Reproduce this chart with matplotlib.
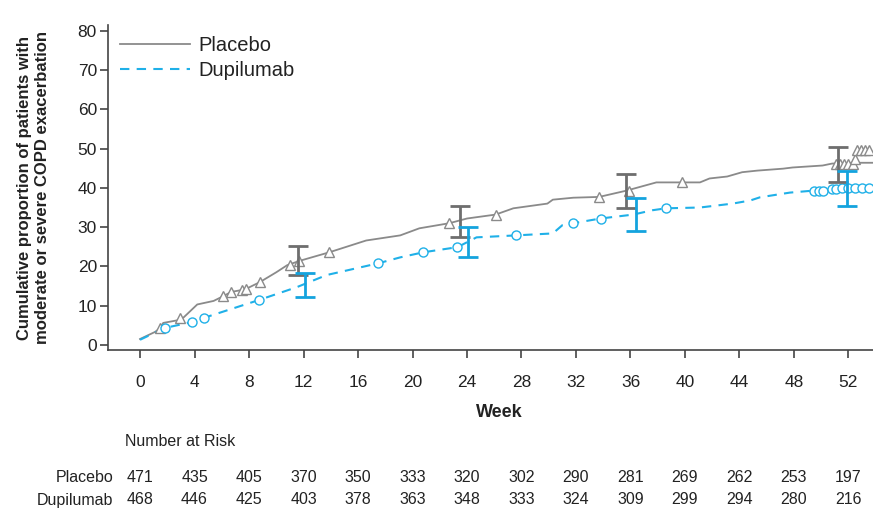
import matplotlib
matplotlib.use("Agg")
import matplotlib.pyplot as plt
from matplotlib import font_manager as fm

names = {f.name for f in fm.fontManager.ttflist}
BASE = "Liberation Sans" if "Liberation Sans" in names else "DejaVu Sans"
NARROW = "Liberation Sans Narrow" if "Liberation Sans Narrow" in names else BASE
plt.rcParams["font.family"] = [BASE, "DejaVu Sans"]

# ---------------- data ----------------
placebo_w = [0.0, 1.1, 1.5, 1.7, 2.8, 3.2, 4.2, 5.4, 6.1, 6.7, 7.5, 7.8, 8.8, 10.0,
             10.8, 11.7, 13.9, 16.6, 19.1, 20.5, 22.7, 24.0, 26.1, 27.4, 29.9, 30.3,
             31.8, 33.7, 35.7, 37.9, 39.8, 41.1, 41.8, 43.1, 44.2, 45.3, 47.2, 47.9,
             50.1, 50.8, 52.3, 52.5, 53.8]
placebo_y = [1.5, 3.3, 4.3, 5.6, 6.3, 7.0, 10.3, 11.2, 12.4, 13.5, 14.0, 14.3, 16.0, 18.5,
             20.3, 21.4, 23.6, 26.6, 27.9, 29.7, 31.0, 32.2, 33.2, 34.8, 36.0, 37.0,
             37.5, 37.7, 39.3, 41.4, 41.4, 41.4, 42.4, 42.9, 44.0, 44.4, 44.9, 45.2,
             45.7, 46.2, 46.3, 46.4, 46.4]
placebo_cens_w = [1.5, 2.9, 6.1, 6.7, 7.5, 7.8, 8.8, 11.0, 11.7, 13.9, 22.7, 26.1,
                  33.7, 35.9, 39.8, 51.1, 51.4, 51.7, 52.0, 52.3, 52.5,
                  52.6, 52.9, 53.2, 53.5]
placebo_cens_y = [4.3, 6.9, 12.4, 13.5, 14.0, 14.3, 16.0, 20.3, 21.3, 23.6, 31.0, 33.2,
                  37.6, 39.2, 41.4, 46.2, 46.2, 46.2, 46.2, 46.2, 47.3,
                  49.7, 49.7, 49.7, 49.7]

dupi_w = [0.0, 1.8, 3.8, 4.7, 8.7, 11.5, 13.7, 17.5, 19.1, 20.8, 23.3, 24.7, 27.6,
          30.3, 31.0, 31.8, 33.8, 36.2, 37.6, 38.6, 41.1, 43.5, 44.8, 45.5, 47.7,
          49.4, 50.1, 50.8, 51.4, 53.8]
dupi_y = [1.3, 4.3, 5.8, 6.9, 11.4, 14.7, 17.8, 20.8, 22.3, 23.6, 24.9, 27.4, 27.9,
          28.4, 30.5, 31.0, 32.2, 33.2, 34.3, 34.8, 35.0, 36.0, 36.8, 37.6, 38.8,
          39.3, 39.3, 39.6, 40.1, 40.1]
dupi_cens_w = [1.8, 3.8, 4.7, 8.7, 17.5, 20.8, 23.3, 27.6, 31.8, 33.8, 38.6,
               49.5, 49.8, 50.1, 50.8, 51.1, 51.5, 52.0, 52.5, 53.0, 53.5]
dupi_cens_y = [4.3, 5.8, 6.9, 11.4, 20.8, 23.6, 24.9, 27.9, 31.0, 32.2, 34.8,
               39.2, 39.2, 39.2, 39.6, 39.6, 40.1, 40.1, 40.1, 40.1, 40.1]

placebo_err_w = [11.6, 23.5, 35.7, 51.2]
placebo_err_lo = [17.8, 27.4, 34.8, 41.4]
placebo_err_hi = [25.2, 35.5, 43.6, 50.5]
dupi_err_w = [12.1, 24.1, 36.4, 51.9]
dupi_err_lo = [12.2, 22.3, 29.0, 35.5]
dupi_err_hi = [18.2, 30.0, 37.3, 44.4]

weeks = [0, 4, 8, 12, 16, 20, 24, 28, 32, 36, 40, 44, 48, 52]
risk_placebo = [471, 435, 405, 370, 350, 333, 320, 302, 290, 281, 269, 262, 253, 197]
risk_dupi = [468, 446, 425, 403, 378, 363, 348, 333, 324, 309, 299, 294, 280, 216]

GRAY = "#8a8a8a"
GRAY_ERR = "#6e6e6e"
BLUE = "#1fb0e8"
BLUE_ERR = "#14a3de"
TXT = "#222222"

fig = plt.figure(figsize=(8.73, 5.12), dpi=100)
ax = fig.add_axes([108 / 873, 1 - 350 / 512, 1 - 108 / 873, (350 - 25) / 512])

ax.plot(placebo_w, placebo_y, color=GRAY, lw=1.3, label="Placebo", zorder=3)
ax.plot(dupi_w, dupi_y, color=BLUE, lw=1.5, ls=(0, (4.5, 3.5)), label="Dupilumab", zorder=3)

ax.plot(placebo_cens_w, placebo_cens_y, ls="none", marker="^", ms=6.5, mfc="white",
        mec=GRAY, mew=1.0, zorder=4)
ax.plot(dupi_cens_w, dupi_cens_y, ls="none", marker="o", ms=6.5, mfc="white",
        mec=BLUE, mew=1.0, zorder=4)

for ws, lo, hi, col in [(placebo_err_w, placebo_err_lo, placebo_err_hi, GRAY_ERR),
                        (dupi_err_w, dupi_err_lo, dupi_err_hi, BLUE_ERR)]:
    mid = [(a + b) / 2 for a, b in zip(lo, hi)]
    ax.errorbar(ws, mid, yerr=[[m - a for m, a in zip(mid, lo)], [b - m for m, b in zip(mid, hi)]],
                fmt="none", ecolor=col, elinewidth=2.0, capsize=7, capthick=2.0, zorder=5)

ax.set_xlim(-2.35, 53.8)
ax.set_ylim(-1.3, 81.5)
ax.set_xticks(weeks)
ax.set_yticks(range(0, 81, 10))
for s in ["top", "right"]:
    ax.spines[s].set_visible(False)
for s in ["left", "bottom"]:
    ax.spines[s].set_color("#444444")
    ax.spines[s].set_linewidth(1.2)
ax.tick_params(direction="out", length=6, width=1.2, color="#444444",
               labelsize=12.5, labelcolor=TXT, pad=2)
ax.tick_params(axis="x", pad=12)

ax.set_ylabel("Cumulative proportion of patients with\nmoderate or severe COPD exacerbation",
              fontsize=12, fontweight="bold", color=TXT, linespacing=1.25)
ax.yaxis.set_label_coords(-0.076, 0.5)
ax.set_xlabel("Week", fontsize=13, fontweight="bold", color=TXT)
ax.xaxis.set_label_coords((499 - 108) / 765, -(404 - 350) / 325)

leg = ax.legend(loc="upper left", bbox_to_anchor=(-0.008, 1.023), frameon=False, fontsize=14.5,
                handlelength=3.5, handletextpad=0.4, labelspacing=0.3, borderaxespad=0.5)
for t in leg.get_texts():
    t.set_color(TXT)

# number at risk table
RS = 11.5
fig.text(125 / 873, 1 - 441 / 512, "Number at Risk", fontsize=RS, color=TXT,
         family=[NARROW, "DejaVu Sans"], va="center", ha="left")
for label, vals, ypx in [("Placebo", risk_placebo, 478), ("Dupilumab", risk_dupi, 500)]:
    fig.text(113 / 873, 1 - ypx / 512, label, fontsize=RS, color=TXT,
             family=[NARROW, "DejaVu Sans"], va="center", ha="right")
    for w, v in zip(weeks, vals):
        xd = ax.transData.transform((w, 0))[0]
        xf = fig.transFigure.inverted().transform((xd, 0))[0]
        fig.text(xf, 1 - ypx / 512, str(v), fontsize=RS, color=TXT,
                 family=[NARROW, "DejaVu Sans"], va="center", ha="center")

fig.savefig("out.png", dpi=100)
